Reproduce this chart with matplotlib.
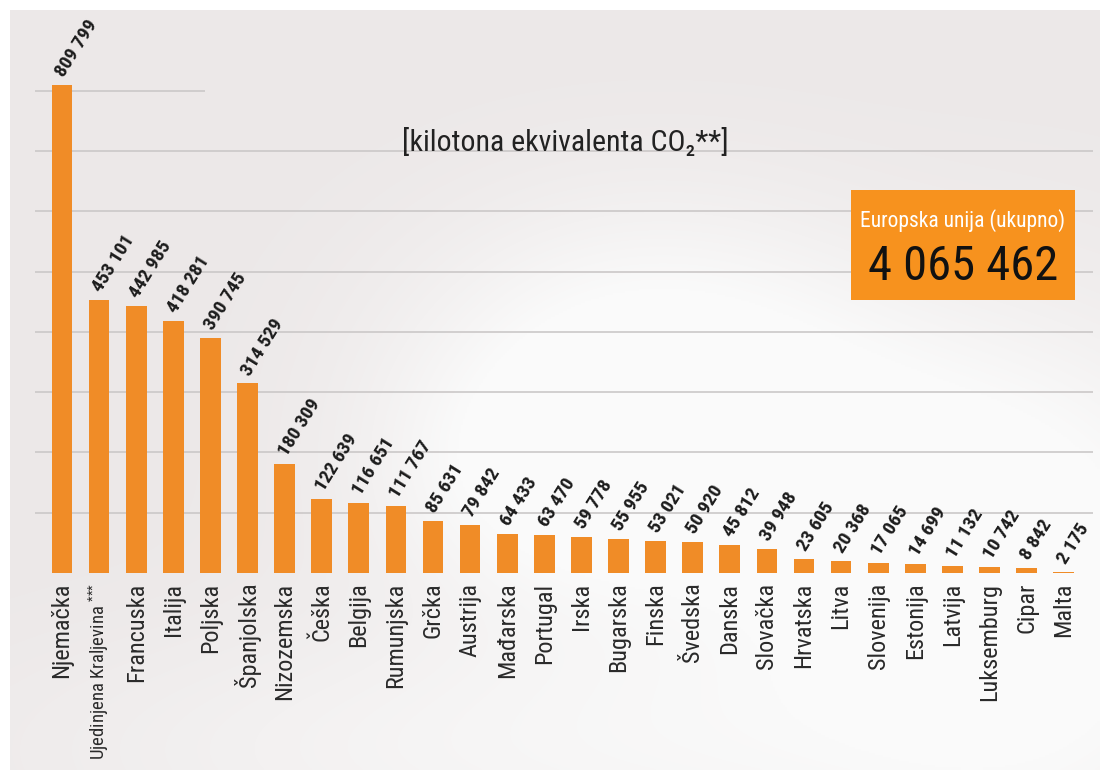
import numpy as np
import matplotlib.pyplot as plt
from matplotlib import font_manager

# data, kilotona CO2 ekvivalenta
countries = ["Njemačka", "Ujedinjena Kraljevina", "Francuska", "Italija", "Poljska",
             "Španjolska", "Nizozemska", "Češka", "Belgija", "Rumunjska", "Grčka",
             "Austrija", "Mađarska", "Portugal", "Irska", "Bugarska", "Finska",
             "Švedska", "Danska", "Slovačka", "Hrvatska", "Litva", "Slovenija",
             "Estonija", "Latvija", "Luksemburg", "Cipar", "Malta"]
emissions = [809799, 453101, 442985, 418281, 390745, 314529, 180309, 122639,
             116651, 111767, 85631, 79842, 64433, 63470, 59778, 55955, 53021,
             50920, 45812, 39948, 23605, 20368, 17065, 14699, 11132, 10742,
             8842, 2175]
eu_total = 4065462
unit_title = "[kilotona ekvivalenta CO\u2082**]"
grid_levels = [100000, 200000, 300000, 400000, 500000, 600000, 700000, 800000]

names = {f.name for f in font_manager.fontManager.ttflist}
fam = [f for f in ["Roboto Condensed", "Liberation Sans Narrow", "DejaVu Sans Condensed", "DejaVu Sans"] if f in names]
plt.rcParams['font.family'] = fam
plt.rcParams['mathtext.fontset'] = 'custom'
plt.rcParams['mathtext.rm'] = fam[0]
plt.rcParams['mathtext.it'] = fam[0]

def fmt(v):
    return f"{v:,}".replace(",", " ")

W, H = 1108, 776
fig = plt.figure(figsize=(W / 100, H / 100), dpi=100)
fig.patch.set_facecolor("white")

# background with soft clouds
bg = fig.add_axes([10 / W, 6 / H, 1090 / W, 760 / H])
yy, xx = np.mgrid[0:380, 0:545]
xx = xx * 2.0
yy = yy * 2.0
c = np.zeros_like(xx)
for cx, cy, sx, sy, a in [(640, 330, 170, 110, 0.9), (820, 460, 220, 110, 0.8),
                          (520, 470, 120, 90, 0.6), (900, 700, 300, 160, 0.7),
                          (400, 740, 300, 90, 0.5), (1050, 560, 150, 200, 0.5)]:
    c += a * np.exp(-((xx - cx) ** 2 / (2 * sx ** 2) + (yy - cy) ** 2 / (2 * sy ** 2)))
c = np.clip(c, 0, 1)
base = np.array([236, 232, 232]) / 255.0
white = np.array([250, 250, 250]) / 255.0
img = base[None, None, :] + (white - base)[None, None, :] * c[:, :, None]
bg.imshow(img, aspect="auto", interpolation="bilinear")
bg.axis("off")

# main axes: bar i centred at 62 + 37.1*i px, baseline at 573 px
px_step = 37.1
ax = fig.add_axes([10 / W, (H - 573) / H, 1090 / W, 563 / H])
ax.patch.set_alpha(0)
ax.set_xlim((10 - 62) / px_step, (1100 - 62) / px_step)
scale = 488 / 809799.0
ax.set_ylim(0, 563 / scale)

x = np.arange(len(countries))
for lv in grid_levels:
    x_end = (205 - 62) / px_step if lv == 800000 else (1093 - 62) / px_step
    ax.hlines(lv, (35 - 62) / px_step, x_end, color="#cbc8c8", lw=1.2, zorder=1)

ax.bar(x, emissions, width=0.56, color="#F08C27", zorder=2)

for xi, v in zip(x, emissions):
    ax.annotate(fmt(v), (xi + 0.06, v), xytext=(0, 5), textcoords="offset points",
                rotation=58, rotation_mode="anchor", ha="left", va="baseline",
                fontsize=14, fontweight="semibold", color="#1c1c1c")

labels = list(countries)
labels[1] = "Ujedinjena Kraljevina $^{{*}{*}{*}}$"
ax.set_xticks(x)
ax.set_xticklabels(labels, rotation=90, fontsize=17.5, color="#2a2a2a")
ax.get_xticklabels()[1].set_fontsize(13.5)
ax.tick_params(axis="x", length=0, pad=7)
ax.set_yticks([])
for s in ax.spines.values():
    s.set_visible(False)

fig.text(565 / W, 1 - 143 / H, unit_title, ha="center", va="center",
         fontsize=21.5, color="#222222")

# EU total box
box = fig.add_axes([851 / W, 1 - 300 / H, 224 / W, 110 / H])
box.set_facecolor("#F7921E")
box.set_xticks([])
box.set_yticks([])
for s in box.spines.values():
    s.set_visible(False)
box.text(0.5, 0.72, "Europska unija (ukupno)", ha="center", va="center",
         fontsize=15.5, color="white", transform=box.transAxes)
box.text(0.5, 0.30, fmt(eu_total), ha="center", va="center",
         fontsize=35, color="#111111", transform=box.transAxes)

fig.savefig("out.png", dpi=100)
